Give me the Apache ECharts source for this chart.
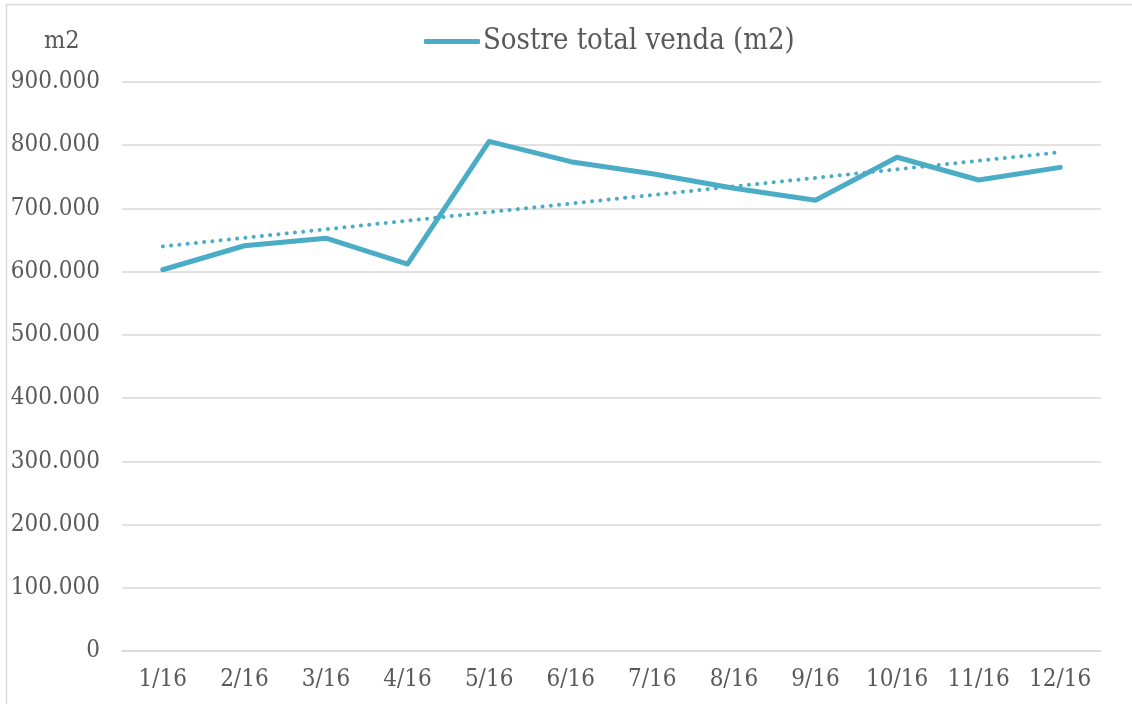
<!DOCTYPE html>
<html><head><meta charset="utf-8">
<script src="https://cdn.jsdelivr.net/npm/echarts@6/dist/echarts.min.js"></script>
<style>html,body{margin:0;padding:0;background:#fff}#c{width:1132px;height:704px}</style>
</head><body><div id="c"></div>
<script>
const categories = ['1/16','2/16','3/16','4/16','5/16','6/16','7/16','8/16','9/16','10/16','11/16','12/16'];
const seriesName = 'Sostre total venda (m2)';
const values = [603000, 641000, 653000, 612000, 806000, 774000, 755000, 732000, 713000, 781000, 745000, 765000];
// linear trend line endpoints
const trendStart = 640000;
const trendEnd = 789000;
const yTicks = [0, 100000, 200000, 300000, 400000, 500000, 600000, 700000, 800000, 900000];

const FONT = '"DejaVu Serif Condensed", "DejaVu Serif", serif';
const TXT = '#595959';
const COL = '#4BACC6';
const trend = categories.map((c, i) => i === 0 ? trendStart : (i === categories.length - 1 ? trendEnd : null));

function fmt(v) {
  return String(Math.round(v)).replace(/\B(?=(\d{3})+(?!\d))/g, '.');
}

const chart = echarts.init(document.getElementById('c'), null, {renderer: 'canvas'});
chart.setOption({
  animation: false,
  backgroundColor: '#fff',
  textStyle: {fontFamily: FONT},
  graphic: [{
    type: 'rect', silent: true,
    shape: {x: 6.5, y: 4.5, width: 1300, height: 900},
    style: {fill: 'none', stroke: '#d9d9d9', lineWidth: 1.5}
  }, {
    type: 'text', left: 44, top: 29,
    style: {text: 'm2', font: '25px ' + FONT, fill: TXT}
  }],
  legend: {
    top: 22, left: 419,
    data: [seriesName],
    itemWidth: 56, itemHeight: 5, itemGap: 4,
    icon: 'roundRect',
    textStyle: {fontSize: 29, color: TXT, fontFamily: FONT, padding: [0,0,0,-2]}
  },
  grid: {left: 122, right: 31, top: 82, bottom: 53},
  xAxis: {
    type: 'category', data: categories, boundaryGap: true,
    axisLine: {lineStyle: {color: '#d9d9d9', width: 1.5}},
    axisTick: {show: false},
    axisLabel: {color: TXT, fontSize: 24, fontFamily: FONT, margin: 17}
  },
  yAxis: {
    type: 'value', min: yTicks[0], max: yTicks[yTicks.length - 1], interval: yTicks[1] - yTicks[0],
    axisLine: {show: false}, axisTick: {show: false},
    splitLine: {lineStyle: {color: '#d9d9d9', width: 1.5}},
    axisLabel: {color: TXT, fontSize: 24, fontFamily: FONT, margin: 22, formatter: fmt, padding: [2, 0, 0, 0]}
  },
  series: [{
    name: seriesName, type: 'line', data: values,
    symbol: 'none', lineStyle: {color: COL, width: 5, cap: 'round', join: 'round'},
    itemStyle: {color: COL}, z: 3
  }, {
    name: 'trend', type: 'line', data: trend, connectNulls: true,
    symbol: 'none', lineStyle: {color: COL, width: 4, type: [0.1, 8.2], cap: 'round'},
    itemStyle: {color: COL}, z: 2
  }]
});
</script></body></html>
